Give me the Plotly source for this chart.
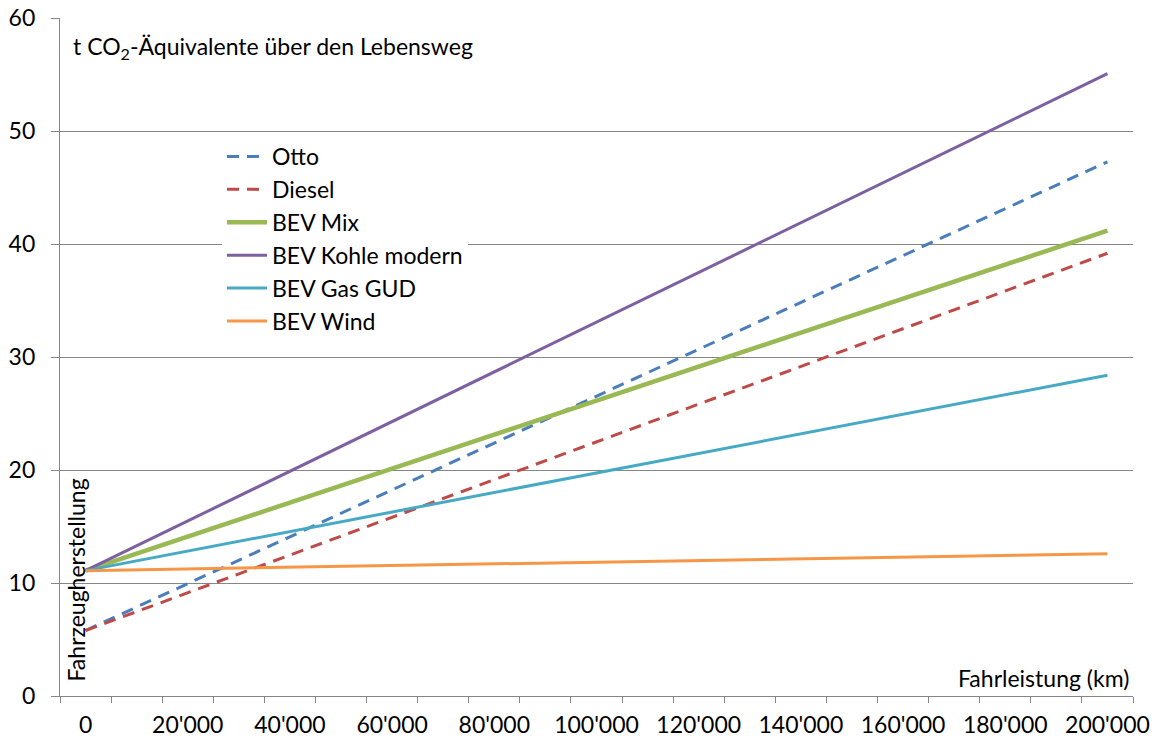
import plotly.graph_objects as go

# Data (km driven vs. t CO2-eq over lifetime)
km = [0, 200000]
series_names = ["Otto", "Diesel", "BEV Mix", "BEV Kohle modern", "BEV Gas GUD", "BEV Wind"]
otto = [5.8, 47.3]
diesel = [5.8, 39.2]
bev_mix = [11.1, 41.2]
bev_kohle = [11.1, 55.1]
bev_gas = [11.1, 28.4]
bev_wind = [11.1, 12.6]
x_tick_vals = [0, 20000, 40000, 60000, 80000, 100000, 120000, 140000, 160000, 180000, 200000]
x_tick_text = ["0", "20'000", "40'000", "60'000", "80'000", "100'000", "120'000",
               "140'000", "160'000", "180'000", "200'000"]

colors = ["#4A7EBB", "#BE4B48", "#98B954", "#7D60A0", "#46AAC5", "#F79646"]
widths = [3, 3, 4.5, 3, 3, 3]
dashes = ["12px,8px", "12px,8px", "solid", "solid", "solid", "solid"]
values = [otto, diesel, bev_mix, bev_kohle, bev_gas, bev_wind]

FONT = "Lato"
FS = 23
# plot area spans x 60..1133, y 18..696 (page body margin removed)
PW, PH = 1073, 678


def px(xv):
    return (xv - 60) / PW


def py(yv):
    return (696 - yv) / PH


fig = go.Figure()
for name, vals, c, w, d in zip(series_names, values, colors, widths, dashes):
    fig.add_trace(go.Scatter(x=km, y=vals, mode="lines", name=name,
                             line=dict(color=c, width=w, dash=d)))

fig.update_layout(
    width=1157, height=740,
    margin=dict(l=60, r=24, t=18, b=44, autoexpand=False),
    paper_bgcolor="white", plot_bgcolor="white",
    font=dict(family=FONT, size=FS, color="black"),
    showlegend=True,
    legend=dict(x=px(222), y=py(135), xanchor="left", yanchor="top",
                bgcolor="white", font=dict(family=FONT, size=FS),
                itemwidth=40, tracegroupgap=0),
)
fig.update_xaxes(
    range=[-5000, 205000], automargin=False,
    tickvals=x_tick_vals, ticktext=x_tick_text, ticks="",
    ticklabelstandoff=8, ticklabeloverflow="allow",
    showgrid=False, zeroline=False,
    showline=True, linecolor="#868686", linewidth=1.3,
    tickfont=dict(family=FONT, size=FS),
    minor=dict(ticks="outside", tick0=-5000, dtick=10000, ticklen=6,
               tickcolor="#868686", tickwidth=1.3, showgrid=False),
)
fig.update_yaxes(
    range=[0, 60.03], dtick=10, tick0=0, automargin=False,
    showgrid=True, gridcolor="#868686", gridwidth=1.3,
    zeroline=False, showline=True, linecolor="#868686", linewidth=1.3,
    ticks="outside", ticklen=8, tickcolor="#868686", tickwidth=1.3,
    ticklabelstandoff=11, ticklabeloverflow="allow",
    tickfont=dict(family=FONT, size=FS),
)

fig.add_annotation(text="t CO<sub>2</sub>-Äquivalente über den Lebensweg",
                   xref="paper", yref="paper", x=px(71), y=py(47),
                   xanchor="left", yanchor="middle", showarrow=False,
                   font=dict(family=FONT, size=FS))
fig.add_annotation(text="Fahrleistung (km)",
                   xref="paper", yref="paper", x=px(1131), y=py(678),
                   xanchor="right", yanchor="middle", showarrow=False,
                   font=dict(family=FONT, size=FS))
fig.add_annotation(text="Fahrzeugherstellung", textangle=-90,
                   xref="paper", yref="paper", x=px(75), y=py(684),
                   xanchor="center", yanchor="bottom", showarrow=False,
                   font=dict(family=FONT, size=FS))

fig.write_html("out.html", config={"displayModeBar": False},
               post_script="document.body.style.margin='0';document.body.style.overflow='hidden';")
